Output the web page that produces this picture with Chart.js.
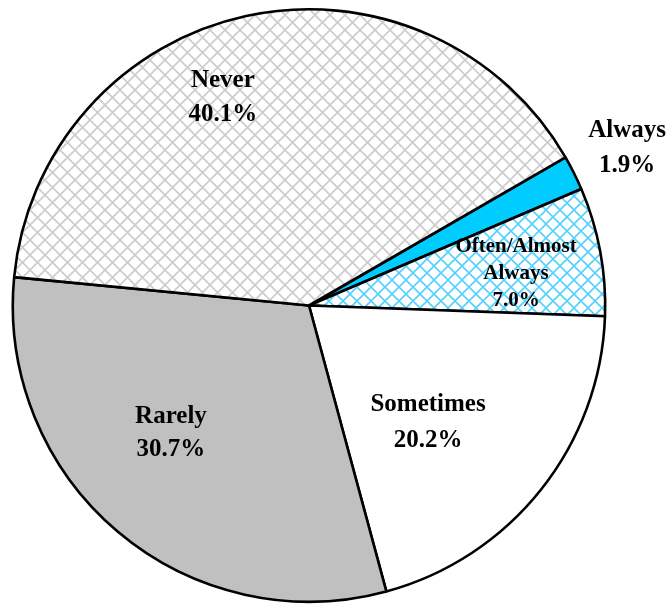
<!DOCTYPE html>
<html>
<head>
<meta charset="utf-8">
<style>
html,body{margin:0;padding:0;background:#fff;}
#wrap{width:672px;height:604px;position:relative;}
</style>
<script src="https://cdn.jsdelivr.net/npm/chart.js@4.4.1/dist/chart.umd.min.js"></script>
</head>
<body>
<div id="wrap"><canvas id="c" width="672" height="604"></canvas></div>
<script>
// ---- data ----
const categories = ["Always", "Often/Almost Always", "Sometimes", "Rarely", "Never"];
const labelLines = [["Always"], ["Often/Almost", "Always"], ["Sometimes"], ["Rarely"], ["Never"]];
const values = [1.9, 7.0, 20.2, 30.7, 40.1];

// ---- styles ----
function hatch(size, color, lw) {
  const c = document.createElement('canvas');
  c.width = size; c.height = size;
  const g = c.getContext('2d');
  g.fillStyle = '#ffffff';
  g.fillRect(0, 0, size, size);
  g.strokeStyle = color;
  g.lineWidth = lw;
  for (let k = -1; k <= 1; k++) {
    g.beginPath();
    g.moveTo(k * size, 0); g.lineTo(k * size + size, size);
    g.moveTo(k * size + size, 0); g.lineTo(k * size, size);
    g.stroke();
  }
  return g.createPattern(c, 'repeat');
}
const ctx = document.getElementById('c').getContext('2d');
const fills = [
  '#00ccff',
  hatch(14, '#55d0ff', 1.6),
  '#ffffff',
  '#c0c0c0',
  hatch(15, '#cdcdcd', 1.7)
];
// label anchor: offset from pie centre in units of radius (x, first baseline y), font px, line height
const labelPos = [
  [1.074, -0.569, 25, 35],
  [0.699, -0.181, 21, 27],
  [0.402, 0.356, 25, 36],
  [-0.466, 0.397, 25, 33],
  [-0.291, -0.738, 25, 34]
];

const labelPlugin = {
  id: 'pieLabels',
  afterDatasetsDraw(chart) {
    const meta = chart.getDatasetMeta(0);
    const g = chart.ctx;
    g.save();
    g.fillStyle = '#000';
    g.textAlign = 'center';
    g.textBaseline = 'alphabetic';
    meta.data.forEach((arc, i) => {
      const [fx, fy, fs, lh] = labelPos[i];
      const R = arc.outerRadius;
      const x = arc.x + fx * R;
      const y = arc.y + fy * R;
      g.font = 'bold ' + fs + 'px "Liberation Serif"';
      const lines = labelLines[i].concat([values[i].toFixed(1) + '%']);
      lines.forEach((t, j) => g.fillText(t, x, y + j * lh));
    });
    g.restore();
  }
};

new Chart(ctx, {
  type: 'pie',
  data: {
    labels: categories,
    datasets: [{
      data: values,
      backgroundColor: fills,
      borderColor: '#000000',
      borderWidth: 2.6,
      hoverOffset: 0
    }]
  },
  options: {
    responsive: false,
    animation: false,
    rotation: 60,
    layout: { padding: { left: 0, right: 54, top: 8, bottom: 1 } },
    plugins: {
      legend: { display: false },
      tooltip: { enabled: false }
    },
    events: []
  },
  plugins: [labelPlugin]
});
</script>
</body>
</html>
